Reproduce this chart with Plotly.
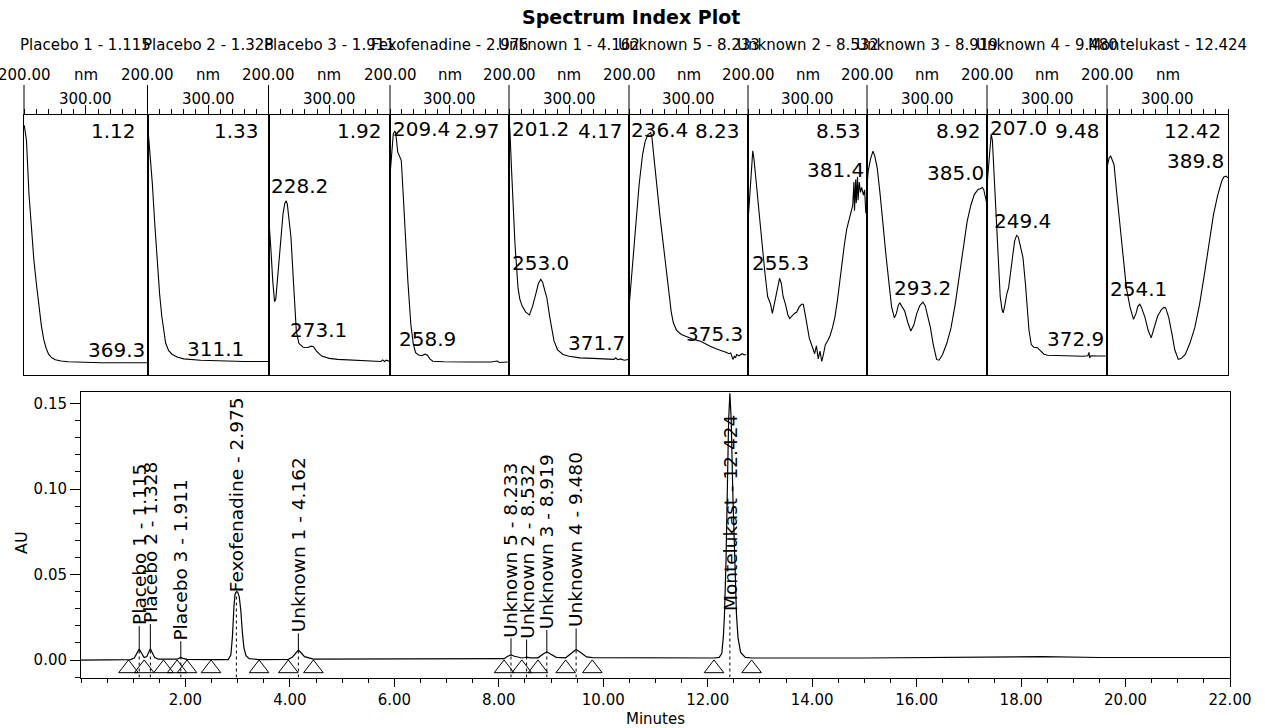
import plotly.graph_objects as go

W, H = 1265, 728
FONT = "DejaVu Sans"
INK = "black"

# ---------------- chromatogram data ----------------
chrom_time = [0.00, 0.50, 0.95, 1.02, 1.07, 1.115, 1.16, 1.21, 1.26, 1.30, 1.328, 1.36, 1.41, 1.48,
              1.70, 1.84, 1.88, 1.911, 1.95, 2.03, 2.50, 2.82, 2.87, 2.90, 2.93, 2.95, 2.975, 3.00,
              3.03, 3.06, 3.09, 3.12, 3.16, 3.22, 3.41, 3.97, 4.05, 4.11, 4.162, 4.21, 4.28, 4.45,
              6.00, 8.10, 8.17, 8.233, 8.30, 8.44, 8.50, 8.532, 8.60, 8.75, 8.85, 8.919, 8.99, 9.10,
              9.28, 9.40, 9.48, 9.56, 9.68, 9.79, 10.50, 12.12, 12.22, 12.27, 12.30, 12.32, 12.35,
              12.38, 12.40, 12.424, 12.45, 12.48, 12.52, 12.55, 12.58, 12.63, 12.72, 12.84, 15.00,
              17.50, 18.40, 19.50, 22.00]
chrom_au = [0.0000, 0.0001, 0.0003, 0.0012, 0.0040, 0.0064, 0.0040, 0.0015, 0.0020, 0.0050, 0.0068,
            0.0045, 0.0015, 0.0005, 0.0003, 0.0005, 0.0011, 0.0015, 0.0010, 0.0004, 0.0002, 0.0003,
            0.0030, 0.0140, 0.0320, 0.0385, 0.0400, 0.0398, 0.0370, 0.0290, 0.0160, 0.0070, 0.0025,
            0.0008, 0.0003, 0.0004, 0.0018, 0.0042, 0.0058, 0.0044, 0.0020, 0.0005, 0.0005, 0.0008,
            0.0022, 0.0030, 0.0022, 0.0012, 0.0015, 0.0017, 0.0013, 0.0013, 0.0035, 0.0048, 0.0035,
            0.0016, 0.0013, 0.0045, 0.0062, 0.0045, 0.0018, 0.0014, 0.0013, 0.0012, 0.0016, 0.0040,
            0.0140, 0.0260, 0.0580, 0.1100, 0.1400, 0.1560, 0.1400, 0.0980, 0.0500, 0.0270, 0.0130,
            0.0045, 0.0016, 0.0012, 0.0012, 0.0016, 0.0020, 0.0015, 0.0015]

peak_names = ["Placebo 1", "Placebo 2", "Placebo 3", "Fexofenadine", "Unknown 1",
              "Unknown 5", "Unknown 2", "Unknown 3", "Unknown 4", "Montelukast"]
peak_rt = [1.115, 1.328, 1.911, 2.975, 4.162, 8.233, 8.532, 8.919, 9.480, 12.424]
peak_apex_au = [0.0064, 0.0068, 0.0015, 0.0400, 0.0058, 0.0030, 0.0017, 0.0048, 0.0062, 0.1560]
peak_label_au = [0.0198, 0.0210, 0.0110, 0.0390, 0.0156, 0.0128, 0.0120, 0.0176, 0.0185, 0.0280]
integration_marks = [0.91, 1.21, 1.58, 1.84, 2.03, 2.49, 3.41, 3.97, 4.45, 8.10, 8.44, 8.75,
                     9.28, 9.79, 12.12, 12.84]

x_ticks = [2, 4, 6, 8, 10, 12, 14, 16, 18, 20, 22]
x_tick_text = ["2.00", "4.00", "6.00", "8.00", "10.00", "12.00", "14.00", "16.00", "18.00", "20.00", "22.00"]
y_ticks = [0.00, 0.05, 0.10, 0.15]
y_tick_text = ["0.00", "0.05", "0.10", "0.15"]

# ---------------- spectra data (nm, relative absorbance) ----------------
spec_rt_text = ["1.12", "1.33", "1.92", "2.97", "4.17", "8.23", "8.53", "8.92", "9.48", "12.42"]

spec_1 = [(200.5, 0.958), (204, 0.90), (208, 0.696), (212, 0.56), (216, 0.44), (220, 0.35), (224, 0.262),
          (228, 0.19), (232, 0.134), (236, 0.10), (240, 0.077), (245, 0.064), (250.7, 0.057), (260, 0.052),
          (272, 0.049), (300, 0.046), (325, 0.045), (360, 0.045), (399.5, 0.045)]
spec_2 = [(201, 0.939), (204, 0.86), (208, 0.734), (212, 0.58), (216.4, 0.428), (220, 0.31), (223.6, 0.224),
          (227, 0.16), (230, 0.121), (235, 0.092), (241, 0.077), (250, 0.066), (260, 0.06), (287.7, 0.055),
          (320, 0.052), (360, 0.05), (399.5, 0.05)]
spec_3 = [(200.5, 0.60), (201.3, 0.578), (204, 0.48), (207, 0.36), (210, 0.28), (212, 0.29), (215, 0.37),
          (220, 0.527), (224, 0.62), (227, 0.66), (229, 0.668), (231, 0.655), (234, 0.60), (237, 0.527),
          (241, 0.36), (245.8, 0.167), (250, 0.12), (257, 0.105), (265, 0.104), (270, 0.109), (274, 0.107),
          (279, 0.09), (287.5, 0.071), (300, 0.062), (314, 0.058), (340, 0.055), (370, 0.053), (385, 0.05),
          (388, 0.056), (391, 0.05), (394, 0.055), (398.7, 0.051)]
spec_4 = [(200.5, 0.78), (203, 0.86), (205.5, 0.925), (208, 0.935), (209.4, 0.932), (211, 0.90), (213, 0.855),
          (216, 0.84), (219, 0.823), (222, 0.70), (226, 0.527), (230, 0.36), (235, 0.193), (239, 0.12),
          (243, 0.084), (248, 0.075), (253, 0.072), (258.9, 0.078), (263, 0.074), (267, 0.06), (272, 0.051),
          (290, 0.049), (332.6, 0.048), (370, 0.048), (380, 0.052), (384, 0.046), (398, 0.048)]
spec_5 = [(200.5, 0.96), (201.4, 0.945), (204, 0.80), (206.8, 0.643), (210, 0.50), (215, 0.334), (218, 0.29),
          (222, 0.263), (228, 0.24), (234, 0.229), (239, 0.26), (244.5, 0.308), (249, 0.35), (253, 0.366),
          (256, 0.355), (260, 0.32), (263, 0.296), (268, 0.22), (275, 0.129), (281, 0.095), (290, 0.077),
          (300, 0.07), (318, 0.064), (340, 0.062), (360, 0.061), (375, 0.058), (378, 0.064), (381, 0.057),
          (386, 0.06), (392, 0.055), (398.6, 0.058)]
spec_6 = [(200.5, 0.27), (201.4, 0.295), (205, 0.40), (209, 0.52), (212, 0.603), (217, 0.73), (222.8, 0.846),
          (227, 0.895), (231.7, 0.923), (236.4, 0.93), (238.6, 0.91), (242, 0.83), (247, 0.718), (252, 0.61),
          (257, 0.513), (262, 0.41), (267.6, 0.308), (271, 0.24), (274.5, 0.199), (280, 0.17), (288, 0.154),
          (300, 0.142), (309, 0.135), (320, 0.128), (330, 0.115), (336.6, 0.109), (345, 0.10), (352, 0.095),
          (358, 0.09), (364, 0.085), (368, 0.08), (371, 0.083), (374.5, 0.058), (377, 0.07), (379, 0.064),
          (381, 0.077), (385, 0.072), (390, 0.08), (394, 0.075), (397, 0.077)]
spec_7 = [(201, 0.62), (203, 0.70), (206, 0.80), (208, 0.86), (210, 0.83), (213, 0.76), (218, 0.62), (223, 0.50),
          (228, 0.40), (233, 0.30), (238, 0.27), (241, 0.235), (244, 0.27), (247, 0.30), (250, 0.33), (253, 0.37),
          (256, 0.35), (259, 0.30), (263, 0.27), (267, 0.23), (270, 0.215), (274, 0.225), (278, 0.235),
          (282, 0.24), (286, 0.26), (290, 0.27), (293, 0.27), (297, 0.22), (300, 0.17), (303, 0.14), (306, 0.12),
          (309, 0.10), (312, 0.08), (315, 0.11), (318, 0.06), (321, 0.09), (324, 0.05), (327, 0.08), (330, 0.115),
          (334, 0.13), (338, 0.15), (342, 0.18), (346, 0.22), (350, 0.28), (354, 0.36), (358, 0.43), (362, 0.50),
          (366, 0.56), (370, 0.60), (373, 0.63), (376, 0.65), (378, 0.74), (379, 0.63), (381, 0.75), (382, 0.66),
          (384, 0.76), (385, 0.67), (387, 0.74), (389, 0.70), (391, 0.72), (394, 0.69), (396, 0.71), (398, 0.62),
          (400, 0.66)]
spec_8 = [(200.5, 0.74), (202, 0.782), (206, 0.83), (210, 0.859), (213, 0.84), (217, 0.795), (222, 0.69),
          (227, 0.564), (232, 0.45), (237.5, 0.333), (241, 0.26), (245.7, 0.218), (249, 0.235), (252, 0.265),
          (254.6, 0.276), (258, 0.262), (262.8, 0.244), (268, 0.20), (273, 0.167), (278, 0.19), (283, 0.235),
          (288, 0.265), (293.2, 0.278), (297, 0.265), (301, 0.23), (305.8, 0.179), (310, 0.12), (316, 0.058),
          (320, 0.055), (326, 0.077), (333, 0.12), (340, 0.179), (347, 0.27), (353.6, 0.372), (360, 0.48),
          (367, 0.59), (373, 0.65), (378.8, 0.692), (383, 0.705), (385, 0.712), (389.8, 0.715), (392, 0.72),
          (394.5, 0.712), (397, 0.69), (400, 0.654)]
spec_9 = [(200.5, 0.74), (202.8, 0.808), (205, 0.90), (207, 0.925), (209, 0.90), (211, 0.80), (213, 0.731),
          (216, 0.57), (218.6, 0.41), (222, 0.30), (225, 0.25), (227, 0.237), (230, 0.27), (233, 0.31),
          (236, 0.333), (241, 0.42), (246, 0.513), (249.4, 0.535), (252, 0.53), (256, 0.49), (260, 0.449),
          (264, 0.35), (267, 0.256), (270, 0.17), (273.8, 0.115), (278, 0.105), (284, 0.103), (290, 0.09),
          (295, 0.078), (301, 0.074), (320, 0.072), (342.8, 0.071), (360, 0.07), (368, 0.072), (370, 0.085),
          (371, 0.064), (373, 0.072), (385, 0.071), (398, 0.071)]
spec_10 = [(200.5, 0.80), (203.4, 0.833), (206, 0.84), (208, 0.83), (211.6, 0.808), (216, 0.70), (222, 0.551),
           (227, 0.43), (232, 0.333), (238, 0.26), (243.8, 0.212), (248, 0.235), (251, 0.262), (254.1, 0.27),
           (257, 0.258), (263, 0.218), (268, 0.17), (273, 0.141), (278, 0.18), (283.6, 0.224), (290, 0.25),
           (294, 0.258), (297, 0.256), (302, 0.22), (307.5, 0.154), (312, 0.095), (317.8, 0.058), (323, 0.062),
           (329.4, 0.077), (337, 0.12), (345, 0.179), (353, 0.27), (361, 0.385), (368, 0.50), (376, 0.615),
           (383, 0.69), (389.7, 0.744), (393, 0.76), (396.6, 0.763), (400, 0.756)]
spectra = [spec_1, spec_2, spec_3, spec_4, spec_5, spec_6, spec_7, spec_8, spec_9, spec_10]

# lambda-max labels printed in each panel
spec_peak_text = [["369.3"], ["311.1"], ["228.2", "273.1"], ["209.4", "258.9"], ["201.2", "253.0", "371.7"],
                  ["236.4", "375.3"], ["381.4", "255.3"], ["385.0", "293.2"], ["207.0", "249.4", "372.9"],
                  ["389.8", "254.1"]]

# ---------------- layout helpers (positions, not data) ----------------
panel_edges_px = [24, 147.5, 268.5, 390, 509, 629, 748, 867, 987, 1107, 1228]
spec_top_px, spec_bot_px = 114.5, 374.5
chrom_top_px, chrom_bot_px = 391.5, 677.5
chrom_left_px, chrom_right_px = 81, 1230
AU_RANGE = [-0.0102, 0.157]
MARK_LEVEL = -0.0049

rt_label_pos = [385, 388, 390, 388, 392.5, 390.4, 393, 393, 391, 391.6]
peak_label_pos = [
    [(399, 0.093, "right")],
    [(363, 0.10, "right")],
    [(201.5, 0.726, "left"), (231.8, 0.171, "left")],
    [(201, 0.945, "left"), (211, 0.135, "left")],
    [(201.7, 0.945, "left"), (201.7, 0.43, "left"), (396, 0.122, "right")],
    [(200, 0.942, "left"), (395, 0.154, "right")],
    [(398.6, 0.788, "right"), (202.7, 0.43, "left")],
    [(398.6, 0.776, "right"), (242, 0.333, "left")],
    [(202, 0.95, "left"), (209, 0.59, "left"), (397.7, 0.135, "right")],
    [(396.4, 0.82, "right"), (201, 0.327, "left")],
]


def py(px):
    return 1 - px / H


fig = go.Figure()

# chromatogram trace
fig.add_trace(go.Scatter(x=chrom_time, y=chrom_au, mode="lines", line=dict(color=INK, width=1.2),
                         xaxis="x", yaxis="y", hoverinfo="skip"))
fig.add_trace(go.Scatter(x=integration_marks, y=[MARK_LEVEL] * len(integration_marks), mode="markers",
                         marker=dict(symbol="triangle-up-open", size=17, color=INK, line=dict(width=1, color=INK)),
                         xaxis="x", yaxis="y", hoverinfo="skip"))

# spectra traces
for i, spec in enumerate(spectra):
    fig.add_trace(go.Scatter(x=[p[0] for p in spec], y=[p[1] for p in spec], mode="lines",
                             line=dict(color=INK, width=1.1), xaxis=f"x{i + 2}", yaxis=f"y{i + 2}",
                             hoverinfo="skip"))

layout = dict(width=W, height=H, autosize=False, margin=dict(l=0, r=0, t=0, b=0, autoexpand=False),
              paper_bgcolor="white", plot_bgcolor="white", showlegend=False,
              font=dict(family=FONT, color=INK))

layout["xaxis"] = dict(domain=[chrom_left_px / W, chrom_right_px / W], range=[0, 22], anchor="y",
                       tickmode="array", tickvals=x_ticks, ticktext=x_tick_text, ticks="outside", ticklen=8,
                       tickwidth=1, tickcolor=INK,
                       minor=dict(dtick=0.5, tick0=0, ticks="outside", ticklen=4, tickcolor=INK, showgrid=False),
                       showline=True, linecolor=INK, linewidth=1, mirror=True, showgrid=False, zeroline=False,
                       tickfont=dict(family=FONT, size=15, color=INK))
layout["yaxis"] = dict(domain=[py(chrom_bot_px), py(chrom_top_px)], range=AU_RANGE, anchor="x",
                       tickmode="array", tickvals=y_ticks, ticktext=y_tick_text, ticks="outside", ticklen=10,
                       tickwidth=1, tickcolor=INK,
                       minor=dict(dtick=0.01, tick0=0, ticks="outside", ticklen=5, tickcolor=INK, showgrid=False),
                       showline=True, linecolor=INK, linewidth=1, mirror=True, showgrid=False, zeroline=False,
                       tickfont=dict(family=FONT, size=15, color=INK))

for i in range(10):
    k = i + 2
    layout[f"xaxis{k}"] = dict(domain=[panel_edges_px[i] / W, panel_edges_px[i + 1] / W], range=[200, 400],
                               anchor=f"y{k}", side="top", tickmode="array", tickvals=[300],
                               showticklabels=False, ticks="outside", ticklen=9, tickcolor=INK,
                               minor=dict(dtick=20, tick0=200, ticks="outside", ticklen=5, tickcolor=INK,
                                          showgrid=False),
                               showline=True, linecolor=INK, linewidth=1, mirror=True, showgrid=False,
                               zeroline=False)
    layout[f"yaxis{k}"] = dict(domain=[py(spec_bot_px), py(spec_top_px)], range=[0, 1], anchor=f"x{k}",
                               showticklabels=False, ticks="", showline=True, linecolor=INK, linewidth=1,
                               mirror=True, showgrid=False, zeroline=False)

annotations = []
shapes = []

# main title
annotations.append(dict(text="<b>Spectrum Index Plot</b>", x=631 / W, y=py(17), xref="paper", yref="paper",
                        showarrow=False, xanchor="center", yanchor="middle",
                        font=dict(family=FONT, size=19, color=INK)))

for i in range(10):
    k = i + 2
    left = panel_edges_px[i]
    centre = (panel_edges_px[i] + panel_edges_px[i + 1]) / 2
    title = f"{peak_names[i]} - {peak_rt[i]:.3f}"
    annotations.append(dict(text=title, x=centre / W, y=py(44.5), xref="paper", yref="paper", showarrow=False,
                            xanchor="center", yanchor="middle", font=dict(family=FONT, size=15, color=INK)))
    annotations.append(dict(text="200.00", x=left / W, y=py(75), xref="paper", yref="paper", showarrow=False,
                            xanchor="center", yanchor="middle", font=dict(family=FONT, size=15, color=INK)))
    annotations.append(dict(text="nm", x=centre / W, y=py(75), xref="paper", yref="paper", showarrow=False,
                            xanchor="center", yanchor="middle", font=dict(family=FONT, size=15, color=INK)))
    annotations.append(dict(text="300.00", x=300, y=py(99.5), xref=f"x{k}", yref="paper", showarrow=False,
                            xanchor="center", yanchor="middle", font=dict(family=FONT, size=15, color=INK)))
    shapes.append(dict(type="line", xref="paper", yref="paper", x0=left / W, x1=left / W, y0=py(spec_top_px),
                       y1=py(85), line=dict(color=INK, width=1)))
    # retention time label in panel
    annotations.append(dict(text=spec_rt_text[i], x=rt_label_pos[i], y=0.935, xref=f"x{k}", yref=f"y{k}",
                            showarrow=False, xanchor="right", yanchor="middle",
                            font=dict(family=FONT, size=20, color=INK)))
    for txt, (lx, ly, anc) in zip(spec_peak_text[i], peak_label_pos[i]):
        annotations.append(dict(text=txt, x=lx, y=ly, xref=f"x{k}", yref=f"y{k}", showarrow=False,
                                xanchor=anc, yanchor="middle", font=dict(family=FONT, size=20, color=INK)))

# chromatogram peak labels and markers
for name, rt, apex, lab in zip(peak_names, peak_rt, peak_apex_au, peak_label_au):
    annotations.append(dict(text=f"{name} - {rt:.3f}", x=rt, y=lab, xref="x", yref="y", showarrow=False,
                            textangle=-90, xanchor="center", yanchor="bottom", borderpad=0,
                            font=dict(family=FONT, size=18.5, color=INK)))
    if lab > apex:
        shapes.append(dict(type="line", xref="x", yref="y", x0=rt, x1=rt, y0=apex, y1=lab,
                           line=dict(color=INK, width=1)))
    shapes.append(dict(type="line", xref="x", yref="y", x0=rt, x1=rt, y0=AU_RANGE[0], y1=min(apex, lab),
                       line=dict(color=INK, width=1, dash="dot")))

annotations.append(dict(text="AU", x=21 / W, y=py(543), xref="paper", yref="paper", showarrow=False,
                        textangle=-90, xanchor="center", yanchor="middle",
                        font=dict(family=FONT, size=16, color=INK)))
annotations.append(dict(text="Minutes", x=655 / W, y=py(719), xref="paper", yref="paper", showarrow=False,
                        xanchor="center", yanchor="middle", font=dict(family=FONT, size=15, color=INK)))

layout["annotations"] = annotations
layout["shapes"] = shapes
fig.update_layout(**layout)

fig.write_html("out.html", config={"responsive": False, "displayModeBar": False},
               post_script="document.body.style.margin='0px';document.body.style.overflow='hidden';")
